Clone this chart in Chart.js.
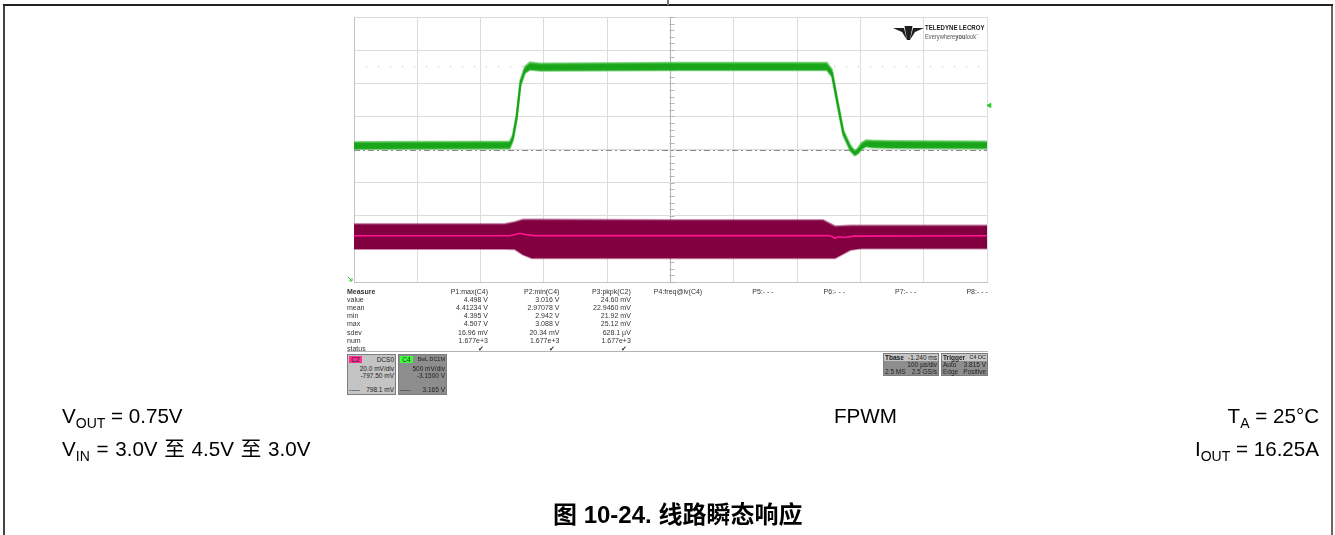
<!DOCTYPE html>
<html>
<head>
<meta charset="utf-8">
<script src="https://cdn.jsdelivr.net/npm/chart.js@4.4.1/dist/chart.umd.min.js"></script>
<style>
    html, body { margin: 0; padding: 0; background: #fff; }
    body { width: 1335px; height: 535px; position: relative; overflow: hidden;
           font-family: "Liberation Sans", Arial, "Noto Sans CJK SC", sans-serif; color: #000; }
    #scope { position: absolute; left: 0; top: 0; }
    .abs { position: absolute; white-space: nowrap; }
    .m { font-size: 7px; line-height: 8px; color: #333; }
    .box { position: absolute; box-sizing: border-box; border: 1px solid #7d7d7d; }
    .box .abs { font-size: 6.5px; line-height: 7px; color: #222; }
    .note { font-size: 20.6px; line-height: 20px; }
    .note span { font-size: 14px; position: relative; top: 5px; }
    #frame-left { position: absolute; left: 3px; top: 5px; width: 2px; height: 530px; background: #444; }
    #frame-right { position: absolute; left: 1331px; top: 5px; width: 2px; height: 530px; background: #666; }
    #frame-top { position: absolute; left: 3px; top: 4px; width: 1330px; height: 2px; background: #222; }
    #frame-div { position: absolute; left: 667px; top: 0; width: 2px; height: 5px; background: #777; }
</style>
</head>
<body>
<canvas id="scope" width="1335" height="535"></canvas>
<div id="frame-left"></div><div id="frame-right"></div><div id="frame-top"></div><div id="frame-div"></div>
<div id="overlay"></div>

<script>
// --- channel settings (from the scope boxes) ---
const c4VoltsPerDiv = 0.5;      // V/div
const c4Offset = -3.15;         // V
const c2MilliVoltsPerDiv = 20;  // mV/div
const c2Offset = -797.5;        // mV
const triggerLevel = 3.815;     // V
const cursorLevel = 4.40;       // V (dotted level line)

// --- C4: input voltage (green), time in µs, volts ---
const c4Time = [0, 246, 251, 257, 263, 270, 278, 294, 500, 747, 755, 763, 773, 784, 791, 796, 802, 809, 818, 850, 1000];
const c4Mid = [3.210, 3.218, 3.324, 3.641, 4.154, 4.350, 4.410, 4.395, 4.403, 4.403, 4.305, 3.897, 3.399, 3.173, 3.097, 3.127, 3.203, 3.241, 3.233, 3.225, 3.218];
const c4Top = [3.265, 3.272, 3.370, 3.690, 4.200, 4.400, 4.465, 4.450, 4.458, 4.458, 4.360, 3.940, 3.440, 3.215, 3.130, 3.170, 3.250, 3.290, 3.285, 3.278, 3.272];
const c4Bot = [3.158, 3.165, 3.280, 3.590, 4.110, 4.300, 4.355, 4.340, 4.348, 4.348, 4.250, 3.850, 3.360, 3.130, 3.060, 3.085, 3.155, 3.195, 3.182, 3.172, 3.165];

// --- C2: output voltage (magenta), time in µs, mV ---
const c2EnvTime = [0, 238, 254, 267, 281, 500, 741, 760, 784, 802, 1000];
const c2Top = [752.5, 752.5, 753.8, 755.2, 755.2, 755.0, 755.0, 751.2, 751.6, 751.6, 751.6];
const c2Bot = [737.4, 737.4, 737.2, 734.0, 731.8, 731.8, 731.8, 731.8, 736.8, 737.8, 737.8];
const c2Time = [0, 246, 255, 262, 270, 285, 500, 748, 755, 760, 765, 775, 790, 1000];
const c2Mid = [745.4, 745.4, 746.2, 746.9, 746.2, 745.5, 745.5, 745.6, 745.0, 743.9, 744.8, 744.4, 745.2, 745.4];

// --- measurement table ---
const measureLabels = ['value', 'mean', 'min', 'max', 'sdev', 'num', 'status'];
const measureHeaders = ['P1:max(C4)', 'P2:min(C4)', 'P3:pkpk(C2)', 'P4:freq@lv(C4)', 'P5:- - -', 'P6:- - -', 'P7:- - -', 'P8:- - -'];
const p1Values = ['4.498 V', '4.41234 V', '4.395 V', '4.507 V', '16.96 mV', '1.677e+3', '✔'];
const p2Values = ['3.016 V', '2.97078 V', '2.942 V', '3.088 V', '20.34 mV', '1.677e+3', '✔'];
const p3Values = ['24.60 mV', '22.9460 mV', '21.92 mV', '25.12 mV', '628.1 µV', '1.677e+3', '✔'];

const pts = (xs, ys) => xs.map((x, i) => ({ x: x, y: ys[i] }));

// scope decorations: center axis ticks, dash-dot center line, ground marker
const scopeExtras = {
    id: 'scopeExtras',
    beforeDatasetsDraw(chart) {
        const { ctx, chartArea: a, scales } = chart;
        const cx = Math.round(scales.x.getPixelForValue(500)) + 0.5;
        const cy = Math.round(scales.y.getPixelForValue(0)) + 0.5;
        ctx.save();
        ctx.strokeStyle = '#b4b4b4';
        ctx.lineWidth = 1;
        ctx.beginPath();
        for (let d = -20; d <= 20; d++) {
            const y = Math.round(scales.y.getPixelForValue(d / 5)) + 0.5;
            ctx.moveTo(cx - 2, y); ctx.lineTo(cx + 3, y);
        }
        ctx.stroke();
        ctx.setLineDash([6, 3, 2, 3]);
        ctx.strokeStyle = '#8a8a8a';
        ctx.beginPath();
        ctx.moveTo(a.left, cy); ctx.lineTo(a.right, cy);
        ctx.stroke();
        ctx.restore();
    },
    afterDraw(chart) {
        const { ctx, chartArea: a } = chart;
        ctx.save();
        ctx.strokeStyle = '#33cc33';
        ctx.lineWidth = 1;
        ctx.beginPath();
        ctx.moveTo(a.left - 6, a.bottom - 5); ctx.lineTo(a.left - 2, a.bottom - 1);
        ctx.moveTo(a.left - 2, a.bottom - 4); ctx.lineTo(a.left - 2, a.bottom - 1); ctx.lineTo(a.left - 5, a.bottom - 1);
        ctx.stroke();
        ctx.restore();
    }
};

const gridColor = ctx => (ctx.tick && ctx.tick.value === 500) ? '#b0b0b0' : '#dcdcdc';

new Chart(document.getElementById('scope'), {
    type: 'line',
    data: {
        datasets: [
            { data: pts(c4Time, c4Top), yAxisID: 'y4', fill: '+1', backgroundColor: '#1ca81c',
              borderColor: 'rgba(80,195,80,0.7)', borderWidth: 2, order: 2 },
            { data: pts(c4Time, c4Bot), yAxisID: 'y4', fill: false,
              borderColor: 'rgba(80,195,80,0.7)', borderWidth: 2, order: 2 },
            { data: pts(c4Time, c4Mid), yAxisID: 'y4', fill: false, borderColor: '#19a319', borderWidth: 2, order: 1 },
            { data: pts(c2EnvTime, c2Top), yAxisID: 'y2', fill: '+1', backgroundColor: '#82003f',
              borderColor: 'rgba(160,60,115,0.6)', borderWidth: 2, order: 4 },
            { data: pts(c2EnvTime, c2Bot), yAxisID: 'y2', fill: false,
              borderColor: 'rgba(160,60,115,0.6)', borderWidth: 2, order: 4 },
            { data: pts(c2Time, c2Mid), yAxisID: 'y2', fill: false, borderColor: '#ff1490', borderWidth: 1.6, order: 3 },
            { data: pts([0, 1000], [cursorLevel, cursorLevel]), yAxisID: 'y4', fill: false,
              borderColor: '#b8b8b8', borderWidth: 1, borderDash: [1, 11], order: 6 },
            { type: 'scatter', data: [{ x: 1004, y: triggerLevel }], yAxisID: 'y4', clip: false,
              pointStyle: 'triangle', rotation: -90, pointRadius: 2.5, backgroundColor: '#22cc22',
              borderColor: '#22cc22', order: 0 }
        ]
    },
    options: {
        responsive: false,
        animation: false,
        layout: { padding: { left: 354, top: 17, right: 348, bottom: 253 } },
        plugins: { legend: { display: false }, tooltip: { enabled: false } },
        elements: { point: { radius: 0 }, line: { tension: 0 } },
        scales: {
            x: { type: 'linear', min: 0, max: 1000,
                 ticks: { display: false, stepSize: 100 },
                 grid: { color: gridColor, drawTicks: false }, border: { color: '#c4c4c4' } },
            y: { min: -4, max: 4,
                 ticks: { display: false, stepSize: 1 },
                 grid: { color: '#dcdcdc', drawTicks: false }, border: { color: '#c4c4c4' } },
            y4: { display: false, min: -c4Offset - 4 * c4VoltsPerDiv, max: -c4Offset + 4 * c4VoltsPerDiv },
            y2: { display: false, min: -c2Offset - 4 * c2MilliVoltsPerDiv, max: -c2Offset + 4 * c2MilliVoltsPerDiv }
        }
    },
    plugins: [scopeExtras]
});

// --- HTML text overlays ---
const overlay = document.getElementById('overlay');

function place(parent, text, x, y, align, style) {
    const el = document.createElement('div');
    el.className = 'abs';
    el.innerHTML = text;
    if (align === 'right') {
        el.style.right = (parent === overlay ? 1335 - x : x) + 'px';
    } else {
        el.style.left = x + 'px';
    }
    el.style.top = y + 'px';
    if (style) el.style.cssText += style;
    parent.appendChild(el);
    return el;
}

// measure table
const rowTop = 288, rowStep = 8.1;
place(overlay, 'Measure', 347, rowTop, 'left', 'font-weight:bold;').classList.add('m');
measureLabels.forEach((lab, i) => place(overlay, lab, 347, rowTop + (i + 1) * rowStep, 'left').classList.add('m'));
measureHeaders.forEach((h, c) => place(overlay, h, 488 + c * 71.4, rowTop, 'right').classList.add('m'));
[p1Values, p2Values, p3Values].forEach((vals, c) => {
    vals.forEach((v, i) => {
        const right = 488 + c * 71.4 - (v === '✔' ? 4 : 0);
        place(overlay, v, right, rowTop + (i + 1) * rowStep, 'right').classList.add('m');
    });
});

const sep = document.createElement('div');
sep.style.cssText = 'position:absolute;left:347px;top:351px;width:641px;height:1px;background:#b4b4b4;';
overlay.appendChild(sep);

function makeBox(left, top, w, h, bg) {
    const b = document.createElement('div');
    b.className = 'box';
    b.style.cssText += `left:${left}px;top:${top}px;width:${w}px;height:${h}px;background:${bg};`;
    overlay.appendChild(b);
    return b;
}

// channel boxes
const c2Box = makeBox(347, 354, 49, 41, '#c4c4c4');
place(c2Box, 'C2', 1, 1, 'left', 'background:#ff2f92;width:13px;height:7px;text-align:center;');
place(c2Box, 'DCS0', 1, 1, 'right');
place(c2Box, '20.0 mV/div', 1, 10, 'right');
place(c2Box, '-797.50 mV', 1, 17, 'right');
place(c2Box, '-----', 1, 31, 'left');
place(c2Box, '798.1 mV', 1, 31, 'right');

const c4Box = makeBox(398, 354, 49, 41, '#8d8d8d');
place(c4Box, 'C4', 1, 1, 'left', 'background:#3cff3c;width:13px;height:7px;text-align:center;');
place(c4Box, 'BwL DC1M', 1, 1, 'right', 'font-size:5.5px;');
place(c4Box, '500 mV/div', 1, 10, 'right');
place(c4Box, '-3.1500 V', 1, 17, 'right');
place(c4Box, '-----', 1, 31, 'left');
place(c4Box, '3.165 V', 1, 31, 'right');

// timebase / trigger boxes
const tbBox = makeBox(883, 353, 56, 23, '#8e8e8e');
place(tbBox, '', 0, 0, 'left', 'width:54px;height:7px;background:#c6c6c6;');
place(tbBox, 'Tbase', 1, 0, 'left', 'font-weight:bold;');
place(tbBox, '-1.240 ms', 1, 0, 'right');
place(tbBox, '100 µs/div', 1, 7, 'right');
place(tbBox, '2.5 MS', 1, 14, 'left');
place(tbBox, '2.5 GS/s', 1, 14, 'right');

const trBox = makeBox(941, 353, 47, 23, '#8e8e8e');
place(trBox, '', 0, 0, 'left', 'width:45px;height:7px;background:#c6c6c6;');
place(trBox, 'Trigger', 1, 0, 'left', 'font-weight:bold;');
place(trBox, 'C4 DC', 1, 0, 'right', 'font-size:5.5px;');
place(trBox, 'Auto', 1, 7, 'left');
place(trBox, '3.815 V', 1, 7, 'right');
place(trBox, 'Edge', 1, 14, 'left');
place(trBox, 'Positive', 1, 14, 'right');

// logo
const logo = document.createElement('div');
logo.innerHTML = `<svg class="abs" style="left:893px;top:26px" width="31" height="15" viewBox="0 0 31 15">
    <polygon points="0,2 11,2 14,14 9,6" fill="#1e1e1e"/>
    <polygon points="31,2 20,2 17,14 22,6" fill="#1e1e1e"/>
    <polygon points="11.5,0 19.5,0 17,14 14,14" fill="#1e1e1e"/></svg>`;
overlay.appendChild(logo.firstElementChild);
place(overlay, 'TELEDYNE LECROY', 925, 24, 'left',
    'font-size:8px;line-height:8px;font-weight:bold;color:#222;transform:scaleX(0.76);transform-origin:left;');
place(overlay, 'Everywhere<b>you</b>look<sup style="font-size:3px">™</sup>', 925, 32, 'left',
    'font-size:7px;line-height:7px;color:#555;transform:scaleX(0.82);transform-origin:left;');

// test conditions and caption
place(overlay, 'V<span>OUT</span> = 0.75V', 62, 406, 'left').classList.add('note');
place(overlay, 'V<span>IN</span> = 3.0V 至 4.5V 至 3.0V', 62, 439, 'left', 'word-spacing:1px;').classList.add('note');
place(overlay, 'FPWM', 834, 406, 'left').classList.add('note');
place(overlay, 'T<span>A</span> = 25°C', 1319, 406, 'right').classList.add('note');
place(overlay, 'I<span>OUT</span> = 16.25A', 1319, 439, 'right').classList.add('note');
place(overlay, '图 10-24. 线路瞬态响应', 553, 502, 'left', 'font-size:24px;line-height:26px;font-weight:bold;');
</script>
</body>
</html>
